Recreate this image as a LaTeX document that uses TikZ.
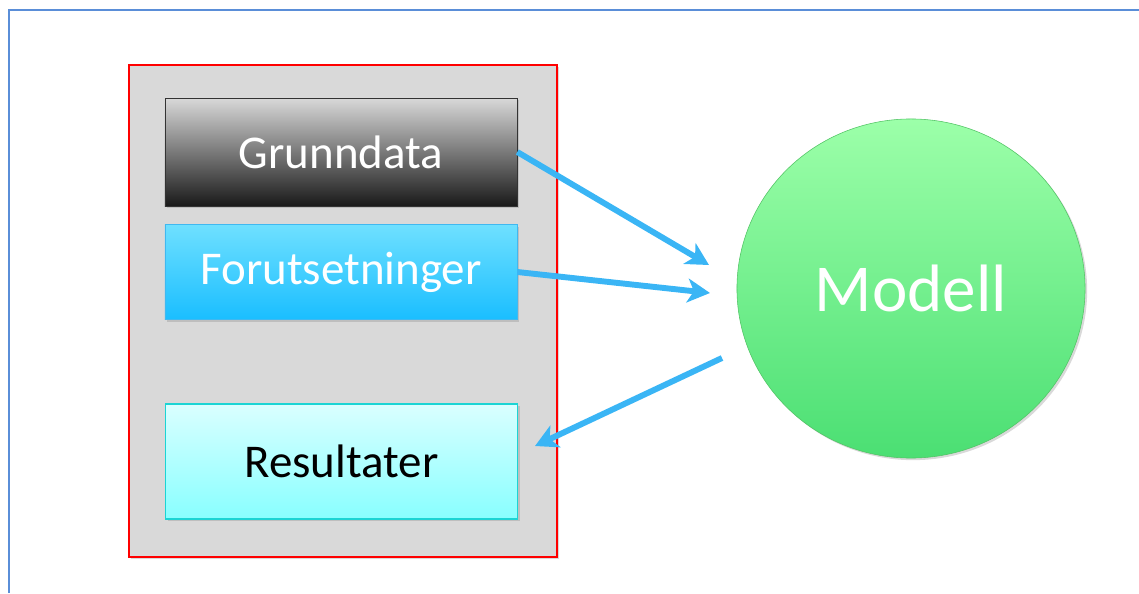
\documentclass[tikz,border=0pt]{standalone}
\usepackage{fontspec}
\setmainfont{Carlito}
\usetikzlibrary{arrows.meta,shapes.geometric,shadows}

\definecolor{rammeblaa}{HTML}{5A8ED8}
\definecolor{pilblaa}{HTML}{3AB5F5}
\definecolor{graabg}{HTML}{D9D9D9}
\definecolor{forutsetTop}{HTML}{6FE0FF}
\definecolor{forutsetBunn}{HTML}{1ABEFF}
\definecolor{forutsetKant}{HTML}{40B8F0}
\definecolor{resTop}{HTML}{DAFFFF}
\definecolor{resBunn}{HTML}{88FFFF}
\definecolor{resKant}{HTML}{1CD4D4}
\definecolor{modellTop}{HTML}{9CFFA9}
\definecolor{modellBunn}{HTML}{4BDF73}
\definecolor{modellKant}{HTML}{52C465}

\newcommand{\boksfont}{\fontsize{33.4pt}{40pt}\selectfont}

\tikzset{
  skygge/.style={drop shadow={opacity=0.3, shadow xshift=1.5pt, shadow yshift=-1.5pt}},
  boks/.style={draw, inner sep=0pt, minimum width=8.8cm, skygge, font=\boksfont},
  pil/.style={draw=pilblaa, line width=4.2pt, -{Stealth[length=16pt, width=17pt, inset=4.5pt]}},
}

\begin{document}
\begin{tikzpicture}[x=0.025cm, y=-0.025cm]
  \useasboundingbox (0,0) rectangle (1139,593);

  % ytre ramme
  \draw[rammeblaa, line width=1.8pt] (9,593) -- (9,10) -- (1139,10);

  % data-boksen
  \node[draw=red, fill=graabg, line width=1.1pt, minimum width=10.7cm, minimum height=12.3cm, skygge] (data) at (343,311) {};

  \node[boks, draw=black!80, top color=black!15, bottom color=black!90, text=white, minimum height=2.7cm] (grunn) at (341,152) {Grunndata};
  \node[boks, draw=forutsetKant, top color=forutsetTop, bottom color=forutsetBunn, text=white, minimum height=2.375cm] (forut) at (341,272) {Forutsetninger};
  \node[boks, draw=resKant, line width=0.9pt, top color=resTop, bottom color=resBunn, text=black, minimum height=2.875cm] (res) at (341.5,461.5) {Resultater};

  % modellen
  \node[ellipse, draw=modellKant, top color=modellTop, bottom color=modellBunn, inner sep=0pt, minimum width=8.7cm, minimum height=8.475cm, skygge, text=white, font=\fontsize{47.7pt}{56pt}\selectfont] (modell) at (911,288.5) {Modell};

  \coordinate (inn1) at (709,265);
  \coordinate (inn2) at (710,293);
  \coordinate (ut) at (722,358);
  \coordinate (tilbake) at (535,446);

  \draw[pil] (grunn.east) -- (inn1);
  \draw[pil] (forut.east) -- (inn2);
  \draw[pil] (ut) -- (tilbake);
\end{tikzpicture}
\end{document}
